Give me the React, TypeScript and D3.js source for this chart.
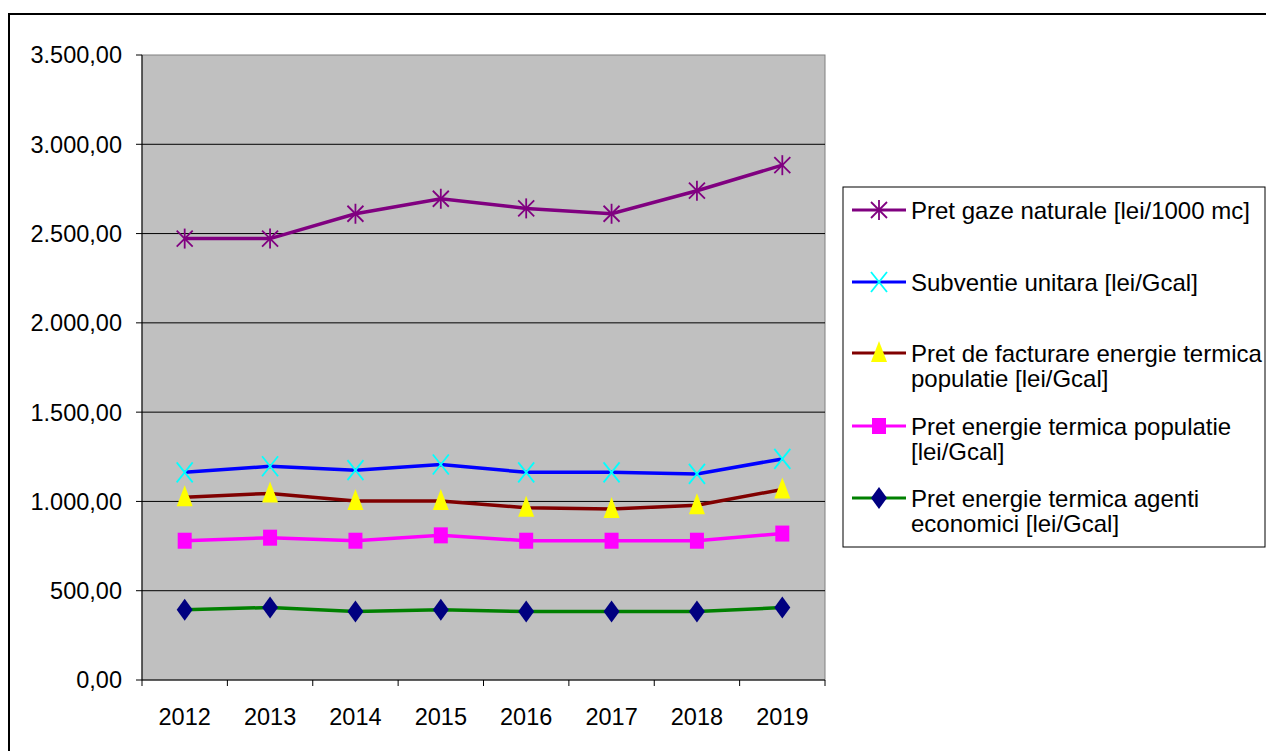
import React from "react";
import * as d3 from "d3";

const years = ["2012", "2013", "2014", "2015", "2016", "2017", "2018", "2019"];
const gazeNaturale = [2472, 2472, 2611, 2695, 2641, 2611, 2740, 2883];
const subventie = [1163, 1197, 1175, 1207, 1163, 1163, 1154, 1238];
const pretFacturare = [1024, 1045, 1002, 1002, 965, 957, 979, 1067];
const pretPopulatie = [780, 797, 780, 810, 780, 780, 780, 820];
const pretAgenti = [394, 406, 383, 394, 383, 383, 383, 406];
const yTicks = [0, 500, 1000, 1500, 2000, 2500, 3000, 3500];

type Marker = "star" | "x" | "triangle" | "square" | "diamond";
const series: { name: string[]; values: number[]; line: string; marker: Marker; fill: string }[] = [
  { name: ["Pret gaze naturale [lei/1000 mc]"], values: gazeNaturale, line: "#800080", marker: "star", fill: "#800080" },
  { name: ["Subventie unitara [lei/Gcal]"], values: subventie, line: "#0000FF", marker: "x", fill: "#00FFFF" },
  { name: ["Pret de facturare energie termica", "populatie [lei/Gcal]"], values: pretFacturare, line: "#800000", marker: "triangle", fill: "#FFFF00" },
  { name: ["Pret energie termica populatie", "[lei/Gcal]"], values: pretPopulatie, line: "#FF00FF", marker: "square", fill: "#FF00FF" },
  { name: ["Pret energie termica agenti", "economici [lei/Gcal]"], values: pretAgenti, line: "#008000", marker: "diamond", fill: "#000080" },
];

const legendY = [210, 282, 353, 426, 498];

function MarkerShape({ type, x, y, color }: { type: Marker; x: number; y: number; color: string }) {
  switch (type) {
    case "star":
      return (
        <g stroke={color} strokeWidth={1.8}>
          <line x1={x} y1={y - 10} x2={x} y2={y + 10} />
          <line x1={x - 8} y1={y - 8} x2={x + 8} y2={y + 8} />
          <line x1={x - 8} y1={y + 8} x2={x + 8} y2={y - 8} />
        </g>
      );
    case "x":
      return (
        <g stroke={color} strokeWidth={1.8}>
          <line x1={x - 8} y1={y - 10} x2={x + 8} y2={y + 10} />
          <line x1={x - 8} y1={y + 10} x2={x + 8} y2={y - 10} />
        </g>
      );
    case "triangle":
      return <path d={`M${x},${y - 12} L${x + 8},${y + 9} L${x - 8},${y + 9} Z`} fill={color} />;
    case "square":
      return <rect x={x - 7} y={y - 8} width={14} height={16} fill={color} />;
    case "diamond":
      return <path d={`M${x},${y - 11} L${x + 8},${y} L${x},${y + 11} L${x - 8},${y} Z`} fill={color} />;
  }
}

export default function App() {
  const left = 142, right = 825, top = 55, bottom = 680;
  const x = d3.scaleBand<string>().domain(years).range([left, right]);
  const y = d3.scaleLinear().domain([0, 3500]).range([bottom, top]);
  const fmt = (v: number) => {
    const s = v.toFixed(2).split(".");
    const intPart = s[0].replace(/\B(?=(\d{3})+(?!\d))/g, ".");
    return `${intPart},${s[1]}`;
  };
  const cx = (d: string) => (x(d) as number) + x.bandwidth() / 2;
  const line = d3.line<number>().x((_, i) => cx(years[i])).y((v) => y(v));
  const font = "'Liberation Sans', Arial, sans-serif";

  return (
    <svg width={1266} height={751} style={{ position: "absolute", left: 0, top: 0 }} fontFamily={font}>
      <rect x={0} y={0} width={1266} height={751} fill="#fff" />
      <rect x={9} y={14} width={1270} height={760} fill="none" stroke="#000" strokeWidth={2} />
      <rect x={left} y={top} width={right - left} height={bottom - top} fill="#C0C0C0" stroke="#808080" strokeWidth={1} />
      {yTicks.filter((t) => t > 0 && t < 3500).map((t) => (
        <line key={t} x1={left} x2={right} y1={y(t)} y2={y(t)} stroke="#000" strokeWidth={1} />
      ))}
      <line x1={left} x2={left} y1={top} y2={bottom} stroke="#000" />
      <line x1={left} x2={right} y1={bottom} y2={bottom} stroke="#000" />
      {yTicks.map((t) => (
        <g key={t}>
          <line x1={left - 6} x2={left} y1={y(t)} y2={y(t)} stroke="#000" />
          <text x={122} y={y(t)} dy="0.36em" textAnchor="end" fontSize={23.5} fill="#000">{fmt(t)}</text>
        </g>
      ))}
      {years.map((yr) => (
        <line key={"t" + yr} x1={x(yr) as number} x2={x(yr) as number} y1={bottom} y2={bottom + 6} stroke="#000" />
      ))}
      <line x1={right} x2={right} y1={bottom} y2={bottom + 6} stroke="#000" />
      {years.map((yr) => (
        <text key={yr} x={cx(yr)} y={717} dy="0.36em" textAnchor="middle" fontSize={23.5} fill="#000">{yr}</text>
      ))}
      {series.map((s) => (
        <g key={s.name[0]}>
          <path d={line(s.values) || ""} fill="none" stroke={s.line} strokeWidth={3.5} />
          {s.values.map((v, i) => (
            <MarkerShape key={i} type={s.marker} x={cx(years[i])} y={y(v)} color={s.fill} />
          ))}
        </g>
      ))}
      <rect x={843} y={187} width={422} height={360} fill="#fff" stroke="#000" strokeWidth={1} />
      {series.map((s, k) => (
        <g key={"l" + k}>
          <line x1={852} x2={906} y1={legendY[k]} y2={legendY[k]} stroke={s.line} strokeWidth={3} />
          <MarkerShape type={s.marker} x={879} y={legendY[k]} color={s.fill} />
          {s.name.map((ln, j) => (
            <text key={j} x={911} y={legendY[k] + j * 25} dy="0.36em" fontSize={24} fill="#000">{ln}</text>
          ))}
        </g>
      ))}
    </svg>
  );
}
